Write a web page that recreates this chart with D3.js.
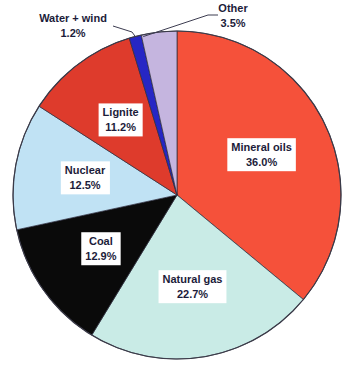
<!DOCTYPE html>
<html>
<head>
<meta charset="utf-8">
<script src="https://cdn.jsdelivr.net/npm/d3@7"></script>
<style>
  body { margin: 0; background: #fff; }
  text { font-family: "Liberation Sans", Arial, sans-serif; font-weight: bold; font-size: 11px; fill: #1c1c3a; }
</style>
</head>
<body>
<div id="chart"></div>
<script>
// data, clockwise from 12 o'clock
var categories = ["Mineral oils", "Natural gas", "Coal", "Nuclear", "Lignite", "Water + wind", "Other"];
var values = [36.0, 22.7, 12.9, 12.5, 11.2, 1.2, 3.5];
var colors = ["#f5513a", "#c9ebe6", "#0a0a0a", "#c0e2f4", "#de3b2c", "#2626c4", "#c5b5df"];

var width = 347, height = 365;
var cx = 177, cy = 195, radius = 164;

var svg = d3.select("#chart")
    .append("svg")
        .attr("width", width)
        .attr("height", height)
    .append("g")
        .attr("transform", "translate(" + cx + "," + cy + ")");

var data = categories.map(function (c, i) { return {name: c, value: values[i], color: colors[i]}; });

var pie = d3.pie()
    .sort(null)
    .value(function (d) { return d.value; });

var arcs = pie(data);

var arc = d3.arc().innerRadius(0).outerRadius(radius);
var labelArc = d3.arc().innerRadius(radius * 0.57).outerRadius(radius * 0.57);

// slices
svg.selectAll("path.slice")
    .data(arcs)
    .enter()
    .append("path")
        .attr("class", "slice")
        .attr("d", arc)
        .style("fill", function (d) { return d.data.color; })
        .style("stroke", "#2b2b3b")
        .style("stroke-width", 0.7);

svg.append("circle")
    .attr("r", radius)
    .style("fill", "none")
    .style("stroke", "#3a3a48")
    .style("stroke-width", 1.2);

function fmt(v) { return v.toFixed(1) + "%"; }

// point on the rim at a given angle
function rim(a, r) { return [Math.sin(a) * r, -Math.cos(a) * r]; }

// inside labels with white boxes
var inner = arcs.filter(function (d) { return d.data.value > 5; });
var lg = svg.selectAll("g.lab")
    .data(inner)
    .enter()
    .append("g")
        .attr("class", "lab")
        .attr("transform", function (d) { return "translate(" + labelArc.centroid(d) + ")"; });

lg.append("rect").style("fill", "#fff");
lg.append("text").attr("text-anchor", "middle").attr("y", -4).text(function (d) { return d.data.name; });
lg.append("text").attr("text-anchor", "middle").attr("y", 11).text(function (d) { return fmt(d.data.value); });

lg.each(function () {
    var g = d3.select(this);
    var bb = g.node().getBBox();
    g.select("rect")
        .attr("x", bb.x - 4).attr("y", bb.y - 3)
        .attr("width", bb.width + 8).attr("height", bb.height + 6);
});

// outside labels for the two small slices
var water = arcs[5], other = arcs[6];
var outer = [
    {d: water, x: 73 - cx, y: 22 - cy,
     line: [[113 - cx, 26 - cy], [132 - cx, 32 - cy], rim((water.startAngle + water.endAngle) / 2, radius)]},
    {d: other, x: 233 - cx, y: 12 - cy,
     line: [[218 - cx, 15 - cy], [208 - cx, 15 - cy], rim(other.startAngle + 0.01, radius - 2)]}
];

svg.selectAll("path.leader")
    .data(outer)
    .enter()
    .append("path")
        .attr("class", "leader")
        .attr("d", function (o) { return d3.line()(o.line); })
        .style("fill", "none")
        .style("stroke", "#3c3c50")
        .style("stroke-width", 1);

var og = svg.selectAll("g.olab")
    .data(outer)
    .enter()
    .append("g")
        .attr("class", "olab")
        .attr("transform", function (o) { return "translate(" + o.x + "," + o.y + ")"; });

og.append("text").attr("text-anchor", "middle").attr("y", 0).text(function (o) { return o.d.data.name; });
og.append("text").attr("text-anchor", "middle").attr("y", 15).text(function (o) { return fmt(o.d.data.value); });
</script>
</body>
</html>
